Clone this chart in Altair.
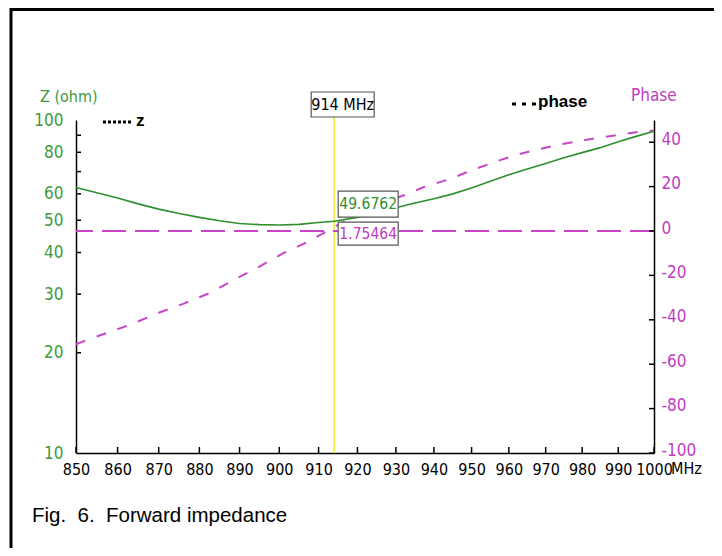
import altair as alt
import pandas as pd

# ---- data ----
z_freq = [850, 855, 860, 865, 870, 875, 880, 885, 890, 895, 900, 905, 910, 914,
          920, 925, 930, 935, 940, 945, 950, 955, 960, 965, 970, 975, 980, 985, 990, 995, 1000]
z_vals = [62.7, 60.5, 58.3, 56.0, 54.0, 52.4, 51.0, 49.8, 48.9, 48.5, 48.4, 48.6, 49.2, 49.6762,
          51.0, 52.6, 54.5, 56.3, 58.0, 60.0, 62.5, 65.5, 68.5, 71.3, 74.0, 77.0, 79.8, 82.6, 86.0, 89.3, 92.5]

ph_freq = [850, 853, 858.6, 864, 870, 876, 883, 889, 895, 901, 907, 914, 920, 926,
           933, 937, 944, 950, 956, 962, 968, 975, 982, 989, 995, 1000]
ph_vals = [-51, -48.8, -45.2, -41.5, -36.8, -32.8, -27.6, -21.6, -16, -10, -5.1, 1.75464, 7.5, 12.5,
           16.6, 19.6, 23.3, 27.3, 31, 34.3, 36.8, 39.3, 41.3, 43, 44.5, 45.3]

x_ticks = list(range(850, 1001, 10))
z_labels = [10, 20, 30, 40, 50, 60, 80, 100]
z_ticks = [20, 30, 40, 50, 60, 70, 80, 90]
ph_ticks = [-100, -80, -60, -40, -20, 0, 20, 40]
marker_freq = [914]
marker_z = [49.6762]
marker_ph = [1.75464]
zero_phase = [0]

W, H = 578, 333
NARROW = "Liberation Sans Narrow, DejaVu Sans Condensed, Arial Narrow, sans-serif"
GREEN = "#2F8F2F"
GREEN_T = "#3C9A3C"
MAG = "#C845C8"
MAG_T = "#C03CC0"
YEL = "#F0F055"

xscale = alt.Scale(type="log", domain=[850, 1000], nice=False)
zscale = alt.Scale(type="log", domain=[10, 100], nice=False)
phscale = alt.Scale(type="linear", domain=[-100, 50], nice=False, zero=False)

X_AXIS = alt.Axis(
    orient="bottom", values=x_ticks, title=None, ticks=False, grid=False,
    labelExpr="'' + datum.value", labelColor="black", labelFont=NARROW,
    labelFontSize=16, labelPadding=8, labelFlush=False, labelOverlap=False,
    domainColor="black", domainWidth=1.5)
Z_AXIS = alt.Axis(
    orient="left", values=z_labels, title=None, ticks=False, grid=False,
    labelExpr="'' + datum.value", labelColor=GREEN_T, labelFont=NARROW,
    labelFontSize=17, labelPadding=13, labelFlush=False, labelOverlap=False,
    domainColor="black", domainWidth=1.5)
PH_AXIS = alt.Axis(
    orient="right", values=ph_ticks, title=None, ticks=False, grid=False,
    labelExpr="'' + datum.value", labelColor=MAG_T, labelFont=NARROW,
    labelFontSize=17, labelPadding=7, labelOffset=-3, labelFlush=False, labelOverlap=False,
    domainColor="black", domainWidth=1.5)


def X(field="f:Q"):
    return alt.X(field, scale=xscale, axis=X_AXIS)


def YZ(field="z:Q"):
    return alt.Y(field, scale=zscale, axis=Z_AXIS)


def YP(field="p:Q"):
    return alt.Y(field, scale=phscale, axis=PH_AXIS)


zdf = pd.DataFrame({"f": z_freq, "z": z_vals})
phdf = pd.DataFrame({"f": ph_freq, "p": ph_vals})
mk = pd.DataFrame({"f": marker_freq, "z": marker_z, "p": marker_ph,
                   "tz": [f"{v}" for v in marker_z], "tp": [f"{v}" for v in marker_ph],
                   "tf": [f"{v} MHz" for v in marker_freq]})

# ---------- Phase group (right, linear) ----------
ph_line = alt.Chart(phdf).mark_line(color=MAG, strokeWidth=2, strokeDash=[10, 12]).encode(x=X(), y=YP())
zero_line = alt.Chart(pd.DataFrame({"p": zero_phase})).mark_rule(
    color=MAG, strokeWidth=2, strokeDash=[24, 9]).encode(y=YP())
ph_tick_marks = alt.Chart(pd.DataFrame({"p": ph_ticks})).mark_rule(color="black", strokeWidth=1.5).encode(
    y=YP(), x=alt.value(W - 5), x2=alt.value(W))
ph_box = alt.Chart(mk).mark_rect(fill="white", stroke="#555555", strokeWidth=1.2,
                                 xOffset=4, x2Offset=64, yOffset=-5, y2Offset=18).encode(
    x=X(), x2="f:Q", y=YP(), y2="p:Q")
ph_text = alt.Chart(mk).mark_text(font=NARROW, fontSize=15.5, color=MAG_T, dx=34, dy=6.5,
                                  align="center", baseline="middle").encode(
    x=X(), y=YP(), text="tp:N")
ph_group = alt.layer(zero_line, ph_line, ph_tick_marks, ph_box, ph_text)

# ---------- Z group (left, log) ----------
z_line = alt.Chart(zdf).mark_line(color=GREEN, strokeWidth=1.6).encode(x=X(), y=YZ())
z_tick_marks = alt.Chart(pd.DataFrame({"z": z_ticks})).mark_rule(color="black", strokeWidth=1.5).encode(
    y=YZ(), x=alt.value(0), x2=alt.value(5))
z_box = alt.Chart(mk).mark_rect(fill="white", stroke="#555555", strokeWidth=1.2,
                                xOffset=4, x2Offset=64, yOffset=-30, y2Offset=-4).encode(
    x=X(), x2="f:Q", y=YZ(), y2="z:Q")
z_text = alt.Chart(mk).mark_text(font=NARROW, fontSize=15.5, color=GREEN, dx=34, dy=-17,
                                 align="center", baseline="middle").encode(
    x=X(), y=YZ(), text="tz:N")
z_group = alt.layer(z_line, z_tick_marks, z_box, z_text)

# ---------- extras ----------
x_tick_marks = alt.Chart(pd.DataFrame({"f": x_ticks})).mark_rule(color="black", strokeWidth=1.5).encode(
    x=X(), y=alt.value(H - 6), y2=alt.value(H))
marker_rule = alt.Chart(mk).mark_rule(color=YEL, strokeWidth=2).encode(
    x=X(), y=alt.value(-3), y2=alt.value(H))
freq_box = alt.Chart(mk).mark_rect(fill="white", stroke="#555555", strokeWidth=1.2,
                                   xOffset=-23, x2Offset=40).encode(
    x=X(), x2="f:Q", y=alt.value(-28), y2=alt.value(-3))
freq_text = alt.Chart(mk).mark_text(font=NARROW, fontSize=16, color="black", dx=8.5,
                                    align="center", baseline="middle").encode(
    x=X(), y=alt.value(-15), text="tf:N")
mhz_text = alt.Chart(pd.DataFrame({"f": [1000], "t": ["MHz"]})).mark_text(
    font=NARROW, fontSize=16, color="black", align="left", baseline="top", dx=17, dy=8).encode(
    x=X(), y=alt.value(H), text="t:N")


def label(txt, x, y, color, size, font=NARROW, weight="normal", align="left"):
    return alt.Chart(pd.DataFrame({"t": [txt]})).mark_text(
        font=font, fontSize=size, color=color, fontWeight=weight, align=align,
        baseline="middle").encode(x=alt.value(x), y=alt.value(y), text="t:N")


z_title = label("Z (ohm)", -36, -23, GREEN_T, 16)
ph_title = label("Phase", 555, -24, MAG_T, 17)
leg_z_line = alt.Chart(pd.DataFrame({"a": [0]})).mark_rule(
    color="black", strokeWidth=3, strokeDash=[3, 2]).encode(
    x=alt.value(27), x2=alt.value(56), y=alt.value(2))
leg_z_text = label("z", 60, 1, "black", 17, font="Liberation Sans", weight="bold")
leg_ph_line = alt.Chart(pd.DataFrame({"a": [0]})).mark_rule(
    color="black", strokeWidth=3, strokeDash=[4, 6]).encode(
    x=alt.value(436), x2=alt.value(462), y=alt.value(-16))
leg_ph_text = label("phase", 462, -18, "black", 17, font="Liberation Sans", weight="bold")
caption = label("Fig.\u00a0 6.\u00a0 Forward impedance", -44, 396, "black", 20.5, font="Liberation Sans")

frame_top = alt.Chart(pd.DataFrame({"a": [0]})).mark_rule(color="black", strokeWidth=3).encode(
    x=alt.value(-66), x2=alt.value(640), y=alt.value(-110.5))
frame_left = alt.Chart(pd.DataFrame({"a": [0]})).mark_rule(color="black", strokeWidth=3).encode(
    x=alt.value(-65), y=alt.value(-112), y2=alt.value(430))

chart = alt.layer(
    marker_rule, ph_group, z_group, x_tick_marks, freq_box, freq_text, mhz_text,
    z_title, ph_title, leg_z_line, leg_z_text, leg_ph_line, leg_ph_text, caption,
    frame_top, frame_left,
).resolve_scale(y="independent").properties(
    width=W, height=H, autosize="none",
    padding={"left": 68, "top": 112, "right": 60, "bottom": 95},
    background="white",
).configure_view(stroke=None)

chart.save("out.html", embed_options={"renderer": "svg", "actions": False})
